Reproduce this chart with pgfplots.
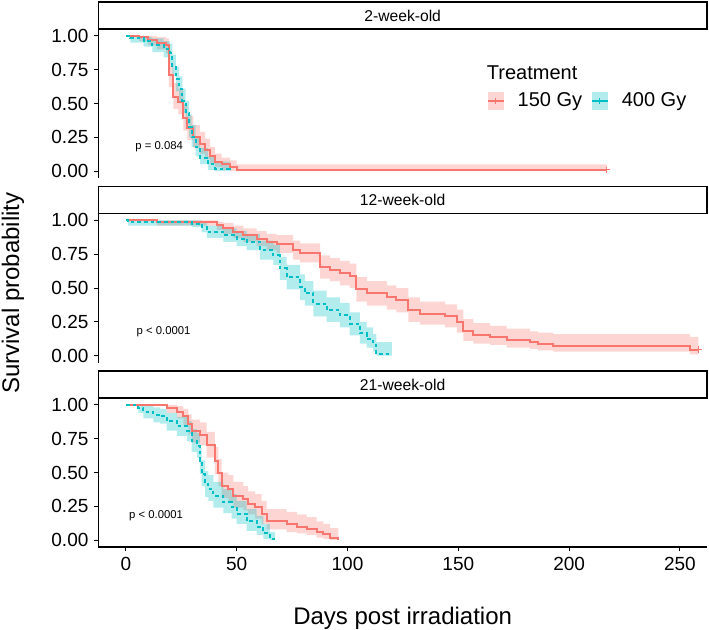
\documentclass[border=0pt]{standalone}
\usepackage{pgfplots}
\pgfplotsset{compat=1.18}
\usepackage{pgfplotstable}
\usepgfplotslibrary{fillbetween}
\usepackage{fontspec}
\setmainfont{Liberation Sans}
\definecolor{cA}{HTML}{F8766D}
\definecolor{cB}{HTML}{00BFC4}

% t = day, s = survival, lo/hi = confidence band
\pgfplotstableread{
t s lo hi
0 1.00 1.00 1.00
6 0.99 0.96 1.00
10 0.97 0.93 1.00
14 0.95 0.90 0.99
18 0.93 0.87 0.98
19.4 0.71 0.62 0.80
21.4 0.55 0.46 0.65
23.7 0.51 0.42 0.61
25.9 0.39 0.30 0.49
27.7 0.32 0.23 0.41
30.4 0.25 0.17 0.34
33.4 0.20 0.13 0.29
35.7 0.16 0.09 0.24
38 0.11 0.05 0.18
40.2 0.07 0.03 0.13
43.2 0.05 0.01 0.10
47 0.03 0.00 0.08
50 0.01 0.00 0.05
217 0.01 0.00 0.05
}\rA
\pgfplotstableread{
t s lo hi
0 1.00 1.00 1.00
2 0.98 0.95 1.00
8 0.96 0.92 0.99
12 0.93 0.88 0.98
17 0.90 0.84 0.96
20 0.87 0.80 0.94
21 0.78 0.70 0.86
22.5 0.68 0.59 0.77
24 0.61 0.52 0.70
25.5 0.52 0.43 0.61
27 0.43 0.34 0.52
28.5 0.33 0.25 0.42
29.7 0.25 0.18 0.34
31.5 0.18 0.11 0.26
33.5 0.10 0.05 0.17
37 0.05 0.01 0.11
40 0.02 0.00 0.07
47 0.01 0.00 0.03
}\tA
\pgfplotstableread{
t s lo hi
0 1.00 1.00 1.00
14 0.985 0.96 1.00
41 0.965 0.93 0.99
44 0.94 0.90 0.98
48.5 0.915 0.87 0.96
53 0.89 0.84 0.94
59 0.865 0.81 0.92
63.5 0.84 0.78 0.90
68 0.825 0.76 0.89
75.5 0.78 0.71 0.85
78.6 0.76 0.69 0.83
87.6 0.655 0.57 0.74
92 0.635 0.55 0.72
96.6 0.61 0.52 0.70
101 0.585 0.50 0.68
104 0.49 0.40 0.58
108.7 0.46 0.37 0.55
117.7 0.43 0.34 0.52
122 0.41 0.32 0.50
127.5 0.34 0.25 0.43
132.7 0.31 0.23 0.40
144 0.29 0.21 0.38
149.3 0.25 0.17 0.34
152.3 0.18 0.11 0.27
156.8 0.15 0.09 0.24
164.3 0.14 0.08 0.22
171.8 0.115 0.06 0.20
182.3 0.10 0.05 0.18
186 0.09 0.04 0.17
192.9 0.07 0.03 0.16
254.6 0.045 0.01 0.14
258.3 0.045 0.01 0.14
}\rB
\pgfplotstableread{
t s lo hi
0 1.00 1.00 1.00
1 0.985 0.96 1.00
29.7 0.975 0.95 1.00
34.2 0.95 0.91 0.99
36.5 0.915 0.87 0.96
44 0.89 0.84 0.94
50 0.865 0.81 0.92
54.5 0.84 0.78 0.90
60.5 0.78 0.71 0.85
66.5 0.74 0.67 0.82
69.5 0.645 0.56 0.73
72.5 0.58 0.49 0.67
78.6 0.505 0.41 0.60
80.8 0.46 0.37 0.55
84.6 0.385 0.29 0.48
90.6 0.335 0.25 0.43
96.6 0.30 0.21 0.39
101 0.235 0.15 0.32
105.6 0.165 0.09 0.25
108.6 0.125 0.06 0.21
111.6 0.08 0.03 0.16
113 0.015 0.00 0.10
120 0.015 0.00 0.10
}\tB
\pgfplotstableread{
t s lo hi
0 1.00 1.00 1.00
18.4 0.976 0.94 1.00
23 0.95 0.90 0.99
25.9 0.915 0.85 0.97
28.2 0.855 0.78 0.93
29.7 0.805 0.72 0.89
33.4 0.78 0.70 0.87
36.4 0.705 0.61 0.80
40.2 0.585 0.49 0.69
41.7 0.50 0.40 0.60
43.2 0.40 0.31 0.50
46.2 0.38 0.29 0.48
48.5 0.33 0.24 0.43
53 0.305 0.22 0.40
55.2 0.27 0.19 0.36
58.3 0.245 0.16 0.34
61.2 0.195 0.12 0.29
63.5 0.14 0.08 0.23
72.5 0.12 0.06 0.21
77.1 0.10 0.05 0.19
81.6 0.085 0.04 0.17
86.1 0.06 0.02 0.14
89.1 0.045 0.01 0.12
92.1 0.02 0.00 0.09
95.9 0.00 0.00 0.06
}\rC
\pgfplotstableread{
t s lo hi
0 1.00 1.00 1.00
5.6 0.976 0.94 1.00
7.9 0.95 0.90 0.99
12.4 0.927 0.87 0.98
15.4 0.914 0.86 0.97
18.4 0.878 0.81 0.94
23 0.84 0.77 0.91
27.5 0.805 0.73 0.88
29.7 0.73 0.65 0.82
32 0.695 0.61 0.79
33.4 0.585 0.49 0.68
34.2 0.49 0.40 0.59
35.7 0.415 0.32 0.51
37.2 0.38 0.29 0.48
39.5 0.33 0.24 0.43
44 0.28 0.20 0.38
47.7 0.245 0.16 0.34
50 0.195 0.12 0.29
54.5 0.14 0.07 0.23
59 0.10 0.04 0.18
62 0.05 0.01 0.12
65 0.01 0.00 0.06
67.3 0.01 0.00 0.06
}\tC

\pgfplotsset{
  panel/.style={
    width=365.22pt, height=89.4pt, scale only axis,
    xmin=-12.45, xmax=262.2, ymin=-0.05, ymax=1.05,
    clip=false,
    axis y line*=left,
    ytick={0,0.25,0.5,0.75,1},
    yticklabels={0.00,0.25,0.50,0.75,1.00},
    xtick={0,50,100,150,200,250},
    tick align=outside, major tick length=2.4pt,
    tick style={black, line width=0.6pt},
    axis line style={black, line width=0.7pt},
    every tick label/.append style={font=\fontsize{11.4}{12}\selectfont},
    /pgf/number format/assume math mode=true,
  },
  band/.style={const plot, draw=none, forget plot},
  bandfill/.style={fill=#1, opacity=0.3, draw=none, forget plot},
  lineA/.style={const plot, color=cA, line width=1.2pt, no marks, forget plot},
  lineB/.style={const plot, color=cB, line width=1.2pt, no marks, dash pattern=on 2.2pt off 1.8pt, forget plot},
}
\newcommand{\strip}[1]{%
  \draw[line width=0.9pt, fill=white] (rel axis cs:0,1) rectangle (rel axis cs:1,1.1812);
  \node[font=\fontsize{9.4}{10}\selectfont] at (rel axis cs:0.5,1.0906) {#1};
}

\begin{document}
\begin{tikzpicture}

% ---------- panel 1 ----------
\begin{axis}[panel, at={(58.98pt,-106.8pt)}, anchor=south west,
  axis x line=none,
  legend columns=2,
  legend style={at={(0.638,0.517)}, anchor=west, draw=none, fill=none,
    font=\fontsize{12}{14}\selectfont, inner sep=0pt,
    /tikz/every odd column/.append style={column sep=6pt},
    /tikz/every even column/.append style={column sep=3.4pt}},
  legend image code/.code={
    \fill[draw=none, opacity=0.3] (0pt,-5.4pt) rectangle (9.6pt,5.4pt);
    \draw[fill=none, line width=0.8pt, solid] (0pt,0pt) -- (9.6pt,0pt);
    \draw[fill=none, line width=0.8pt, solid] (4.8pt,-1.8pt) -- (4.8pt,1.8pt);
  },
]
\addplot[band, name path=au] table[x=t,y=hi] {\rA};
\addplot[band, name path=al] table[x=t,y=lo] {\rA};
\addplot[bandfill=cA] fill between[of=au and al];
\addplot[band, name path=bu] table[x=t,y=hi] {\tA};
\addplot[band, name path=bl] table[x=t,y=lo] {\tA};
\addplot[bandfill=cB] fill between[of=bu and bl];
\addplot[lineA] table[x=t,y=s] {\rA};
\addplot[lineB] table[x=t,y=s] {\tA};
\addplot[only marks, mark=+, mark size=2pt, color=cA, line width=0.7pt, forget plot] coordinates {(217,0.01)};
\addlegendimage{color=cA, fill=cA}
\addlegendentry{150 Gy}
\addlegendimage{color=cB, fill=cB}
\addlegendentry{400 Gy}
\node[anchor=west, inner sep=0pt, font=\fontsize{12}{14}\selectfont] at (rel axis cs:0.638,0.707) {Treatment};
\node[font=\fontsize{6.8}{7}\selectfont] at (axis cs:15,0.18) {p = 0.084};
\strip{2-week-old}
\end{axis}

% ---------- panel 2 ----------
\begin{axis}[panel, at={(58.98pt,-217.5pt)}, anchor=south west, axis x line=none]
\addplot[band, name path=au] table[x=t,y=hi] {\rB};
\addplot[band, name path=al] table[x=t,y=lo] {\rB};
\addplot[bandfill=cA] fill between[of=au and al];
\addplot[band, name path=bu] table[x=t,y=hi] {\tB};
\addplot[band, name path=bl] table[x=t,y=lo] {\tB};
\addplot[bandfill=cB] fill between[of=bu and bl];
\addplot[lineA] table[x=t,y=s] {\rB};
\addplot[lineB] table[x=t,y=s] {\tB};
\addplot[only marks, mark=+, mark size=2pt, color=cA, line width=0.7pt] coordinates {(258.3,0.045)};
\node[font=\fontsize{6.8}{7}\selectfont] at (axis cs:17,0.18) {p < 0.0001};
\strip{12-week-old}
\end{axis}

% ---------- panel 3 ----------
\begin{axis}[panel, at={(58.98pt,-328.2pt)}, anchor=south west, axis x line*=bottom]
\addplot[band, name path=au] table[x=t,y=hi] {\rC};
\addplot[band, name path=al] table[x=t,y=lo] {\rC};
\addplot[bandfill=cA] fill between[of=au and al];
\addplot[band, name path=bu] table[x=t,y=hi] {\tC};
\addplot[band, name path=bl] table[x=t,y=lo] {\tC};
\addplot[bandfill=cB] fill between[of=bu and bl];
\addplot[lineA] table[x=t,y=s] {\rC};
\addplot[lineB] table[x=t,y=s] {\tC};
\node[font=\fontsize{6.8}{7}\selectfont] at (axis cs:13.6,0.18) {p < 0.0001};
\strip{21-week-old}
\end{axis}

\node[rotate=90, font=\fontsize{14.4}{16}\selectfont] at (7.8pt,-175.8pt) {Survival probability};
\node[font=\fontsize{14.4}{16}\selectfont] at (241.6pt,-371.1pt) {Days post irradiation};
\pgfresetboundingbox
\path[use as bounding box] (0,0) rectangle (425.4pt,-377.4pt);
\end{tikzpicture}
\end{document}
